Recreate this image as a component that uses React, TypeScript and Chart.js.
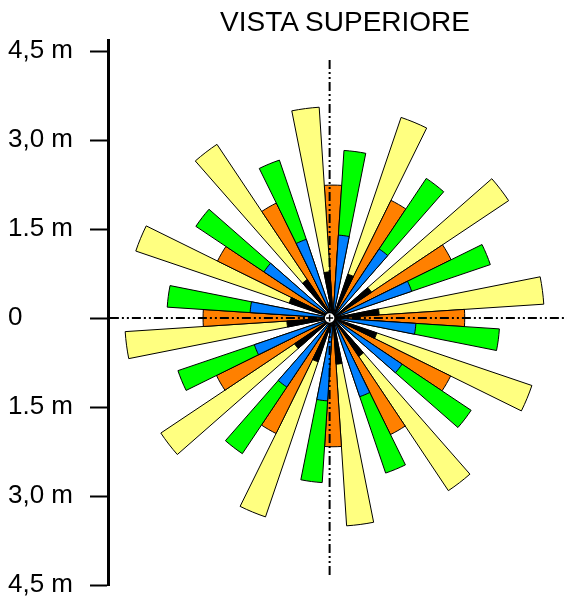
import { useEffect, useRef } from "react";
import { Chart, registerables } from "chart.js";

Chart.register(...registerables);

// ---------- data ----------
const TITLE = "VISTA SUPERIORE";

// 48 directions, 7.5° apart, clockwise from "up"
const DIRECTIONS = [
  "0°", "7.5°", "15°", "22.5°", "30°", "37.5°", "45°", "52.5°",
  "60°", "67.5°", "75°", "82.5°", "90°", "97.5°", "105°", "112.5°",
  "120°", "127.5°", "135°", "142.5°", "150°", "157.5°", "165°", "172.5°",
  "180°", "187.5°", "195°", "202.5°", "210°", "217.5°", "225°", "232.5°",
  "240°", "247.5°", "255°", "262.5°", "270°", "277.5°", "285°", "292.5°",
  "300°", "307.5°", "315°", "322.5°", "330°", "337.5°", "345°", "352.5°",
];

// reach (m) of each jet, one value per 30° group
const ORANGE_REACH = [2.24, 2.21, 2.22, 2.22, 2.21, 2.19, 2.17, 2.17, 2.19, 2.19, 2.17, 2.16];
const GREEN_REACH = [2.83, 2.83, 2.80, 2.81, 2.80, 2.76, 2.78, 2.75, 2.76, 2.80, 2.78, 2.81];
const YELLOW_REACH = [3.57, 3.56, 3.56, 3.54, 3.50, 3.51, 3.54, 3.49, 3.51, 3.51, 3.52, 3.56];
const BLUE_REACH = [1.40, 1.40, 1.40, 1.40, 1.40, 1.40, 1.40, 1.40, 1.40, 1.40, 1.40, 1.40];
const BLACK_REACH = [0.78, 0.78, 0.78, 0.78, 0.78, 0.78, 0.78, 0.78, 0.78, 0.78, 0.78, 0.78];

const AXIS_TICKS = [4.5, 3, 1.5, 0, -1.5, -3, -4.5];
const AXIS_LABELS = ["4,5 m", "3,0 m", "1.5 m", "0", "1.5 m", "3,0 m", "4,5 m"];

const VERTICAL_GUIDE = [{ x: 0, y: 4.35 }, { x: 0, y: -4.37 }];
const HORIZONTAL_GUIDE = [{ x: -3.76, y: 0 }, { x: 4.06, y: 0 }];
const NOZZLE = [{ x: 0, y: 0 }];

// ---------- style / geometry ----------
const FONT = '"Liberation Sans", Arial, Helvetica, sans-serif';
const ORANGE = "#FF8000";
const GREEN = "#00FF00";
const YELLOW = "#FFFF80";
const BLUE = "#0080FF";
const BLACK = "#000000";
const NONE = "rgba(0,0,0,0)";

const W = 574;
const H = 600;
const AXIS_TOP_TICK_PX = 51;
const AXIS_BOTTOM_TICK_PX = 585;
const PX_PER_M = (AXIS_BOTTOM_TICK_PX - AXIS_TOP_TICK_PX) / 9;
const CX = 333;
const CY = 318;
const R_PX = 225;
const R_MAX = R_PX / PX_PER_M;
const AXIS_LINE_X = 108;
const AXIS_LEFT = 8;
const AXIS_LINE_TOP_M = 4.68;

export default function App() {
  const polarRef = useRef<HTMLCanvasElement>(null);
  const axisRef = useRef<HTMLCanvasElement>(null);

  useEffect(() => {
    const outer: number[] = [];
    const inner: number[] = [];
    const outerColors: string[] = [];
    const innerColors: string[] = [];
    for (let k = 0; k < ORANGE_REACH.length; k++) {
      outer.push(ORANGE_REACH[k], GREEN_REACH[k], 0, YELLOW_REACH[k]);
      inner.push(0, BLUE_REACH[k], 0, BLACK_REACH[k]);
      outerColors.push(ORANGE, GREEN, NONE, YELLOW);
      innerColors.push(NONE, BLUE, NONE, BLACK);
    }
    const bw = (ctx: any) => ((ctx.raw as number) > 0 ? 1 : 0);

    const polar = new Chart(polarRef.current as HTMLCanvasElement, {
      type: "polarArea",
      data: {
        labels: DIRECTIONS,
        datasets: [
          {
            label: "inner",
            data: inner,
            backgroundColor: innerColors,
            borderColor: BLACK,
            borderWidth: bw,
          },
          {
            label: "outer",
            data: outer,
            backgroundColor: outerColors,
            borderColor: BLACK,
            borderWidth: bw,
          },
        ],
      },
      options: {
        responsive: false,
        animation: false,
        events: [],
        layout: {
          padding: {
            left: CX - R_PX,
            top: CY - R_PX,
            right: W - (CX + R_PX),
            bottom: H - (CY + R_PX),
          },
        },
        plugins: {
          legend: { display: false },
          tooltip: { enabled: false },
          title: { display: false },
        },
        scales: {
          r: {
            type: "radialLinear",
            min: 0,
            max: R_MAX,
            startAngle: -3.75,
            ticks: { display: false },
            grid: { display: false },
            angleLines: { display: false },
            pointLabels: { display: false },
          },
        },
      } as any,
    });

    const axis = new Chart(axisRef.current as HTMLCanvasElement, {
      type: "scatter",
      data: {
        datasets: [
          {
            label: "nozzle-cross",
            data: NOZZLE,
            pointStyle: "cross",
            pointRadius: 3.5,
            borderColor: BLACK,
            borderWidth: 1.5,
            backgroundColor: BLACK,
          },
          {
            label: "nozzle",
            data: NOZZLE,
            pointStyle: "circle",
            pointRadius: 5.5,
            backgroundColor: "#FFFFFF",
            borderColor: BLACK,
            borderWidth: 1.5,
          },
          {
            label: "vertical",
            data: VERTICAL_GUIDE,
            showLine: true,
            pointRadius: 0,
            borderColor: BLACK,
            borderWidth: 2,
            borderDash: [9, 3, 2, 3, 2, 3],
            clip: false,
          },
          {
            label: "horizontal",
            data: HORIZONTAL_GUIDE,
            showLine: true,
            pointRadius: 0,
            borderColor: BLACK,
            borderWidth: 2,
            borderDash: [9, 3, 2, 3, 2, 3],
            clip: false,
          },
        ],
      },
      options: {
        responsive: false,
        animation: false,
        events: [],
        layout: {
          padding: {
            left: AXIS_LEFT,
            right: 0,
            top: AXIS_BOTTOM_TICK_PX - (AXIS_LINE_TOP_M + 4.5) * PX_PER_M,
            bottom: H - AXIS_BOTTOM_TICK_PX,
          },
        },
        plugins: {
          legend: { display: false },
          tooltip: { enabled: false },
          title: { display: false },
        },
        scales: {
          x: {
            type: "linear",
            display: false,
            bounds: "data",
            min: -(CX - AXIS_LINE_X) / PX_PER_M,
            max: (W - CX) / PX_PER_M,
          },
          y: {
            type: "linear",
            position: "left",
            bounds: "data",
            min: -4.5,
            max: AXIS_LINE_TOP_M,
            afterBuildTicks: (scale: any) => {
              scale.ticks = AXIS_TICKS.map((v) => ({ value: v }));
            },
            afterFit: (scale: any) => {
              scale.width = AXIS_LINE_X - AXIS_LEFT;
              scale.paddingTop = 0;
              scale.paddingBottom = 0;
              scale.paddingLeft = 0;
              scale.paddingRight = 0;
            },
            ticks: {
              autoSkip: false,
              crossAlign: "far",
              padding: 8,
              color: BLACK,
              font: { family: FONT, size: 26 },
              callback: (_v: any, i: number) => AXIS_LABELS[i],
            },
            grid: {
              display: true,
              drawOnChartArea: false,
              drawTicks: true,
              tickLength: 18,
              tickWidth: 2,
              tickColor: BLACK,
            },
            border: { display: true, color: BLACK, width: 3 },
          },
        },
      } as any,
    });

    return () => {
      polar.destroy();
      axis.destroy();
    };
  }, []);

  return (
    <div
      style={{
        position: "absolute",
        left: 0,
        top: 0,
        width: W,
        height: H,
        background: "#FFFFFF",
        overflow: "hidden",
      }}
    >
      <canvas
        ref={polarRef}
        width={W}
        height={H}
        style={{ position: "absolute", left: 0, top: 0, width: W, height: H }}
      />
      <canvas
        ref={axisRef}
        width={W}
        height={H}
        style={{ position: "absolute", left: 0, top: 0, width: W, height: H }}
      />
      <div
        style={{
          position: "absolute",
          left: 145,
          top: 8,
          width: 400,
          textAlign: "center",
          fontFamily: FONT,
          fontSize: 28,
          lineHeight: "28px",
          color: BLACK,
          whiteSpace: "nowrap",
        }}
      >
        {TITLE}
      </div>
    </div>
  );
}
